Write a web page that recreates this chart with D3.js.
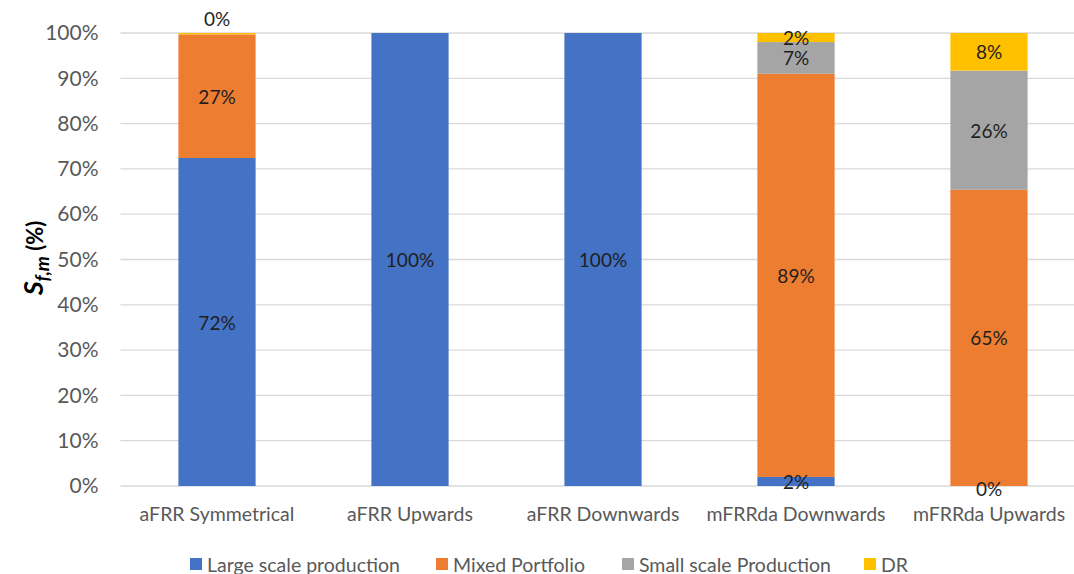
<!DOCTYPE html>
<html>
<head>
<meta charset="utf-8">
<script src="https://cdn.jsdelivr.net/npm/d3@7"></script>
<style>
  html, body { margin: 0; padding: 0; background: #fff; }
  svg { display: block; font-family: Lato, "Open Sans", sans-serif; }
</style>
</head>
<body>
<svg id="chart" width="1074" height="574"></svg>
<script>
// Product categories on the x axis
const categories = ["aFRR Symmetrical", "aFRR Upwards", "aFRR Downwards", "mFRRda Downwards", "mFRRda Upwards"];

// Share of each flexibility provider type per product (%)
const largeScale = [72.4, 100, 100, 2, 0];
const mixedPortfolio = [27.3, 0, 0, 89, 65.4];
const smallScale = [0, 0, 0, 7, 26.3];
const demandResponse = [0.3, 0, 0, 2, 8.3];

const seriesNames = ["Large scale production", "Mixed Portfolio", "Small scale Production", "DR"];
const seriesColors = ["#4472C4", "#ED7D31", "#A5A5A5", "#FFC000"];
const yTicks = [0, 10, 20, 30, 40, 50, 60, 70, 80, 90, 100];

const seriesValues = [largeScale, mixedPortfolio, smallScale, demandResponse];

const svg = d3.select("#chart");
const plot = { left: 120.5, right: 1085.5, top: 33, bottom: 486 };

const x = d3.scaleBand().domain(categories).range([plot.left, plot.right])
  .paddingInner(0.6).paddingOuter(0.3);
const y = d3.scaleLinear().domain([0, 100]).range([plot.bottom, plot.top]);

// Horizontal gridlines
svg.append("g").selectAll("line").data(yTicks).join("line")
  .attr("x1", plot.left).attr("x2", 1074)
  .attr("y1", d => y(d)).attr("y2", d => y(d))
  .attr("stroke", "#D9D9D9").attr("stroke-width", 1.3);

// Y axis tick labels
const yAxis = svg.append("g").attr("transform", `translate(${plot.left - 22},0)`)
  .call(d3.axisLeft(y).tickValues(yTicks).tickFormat(d => d + "%").tickSize(0).tickPadding(0));
yAxis.select(".domain").remove();
yAxis.selectAll("text").attr("font-family", "Lato, sans-serif").attr("font-size", 21)
  .attr("fill", "#595959");

// Stacked data
const rows = categories.map((c, i) => {
  const r = { category: c };
  seriesNames.forEach((s, k) => r[s] = seriesValues[k][i]);
  return r;
});
const stacked = d3.stack().keys(seriesNames)(rows);

const layers = svg.append("g").selectAll("g").data(stacked).join("g")
  .attr("fill", (d, i) => seriesColors[i]);
layers.selectAll("rect").data(d => d).join("rect")
  .attr("x", d => x(d.data.category))
  .attr("width", x.bandwidth())
  .attr("y", d => y(d[1]))
  .attr("height", d => y(d[0]) - y(d[1]));

// Data labels: segments that round to a visible share are centred;
// a sliver on top of a full bar gets its label lifted above the bar,
// and an empty base under a mixed bar is labelled on the baseline.
const labels = [];
stacked.forEach((layer, k) => {
  layer.forEach(d => {
    const v = d[1] - d[0];
    const cx = x(d.data.category) + x.bandwidth() / 2;
    let cy = null;
    if (Math.round(v) > 0) cy = y((d[0] + d[1]) / 2);
    else if (v > 0) cy = y(d[1]) - 15;
    else if (k === 0 && d.data[seriesNames[1]] > 0 && d.data[seriesNames[2]] > 0) cy = y(0) + 2;
    if (cy !== null) labels.push({ cx, cy, text: Math.round(v) + "%" });
  });
});
svg.append("g").selectAll("text").data(labels).join("text")
  .attr("x", d => d.cx).attr("y", d => d.cy)
  .attr("text-anchor", "middle").attr("dominant-baseline", "central")
  .attr("font-size", 19).attr("fill", "#1f1f1f")
  .text(d => d.text);

// Category labels
svg.append("g").selectAll("text").data(categories).join("text")
  .attr("x", d => x(d) + x.bandwidth() / 2).attr("y", 513)
  .attr("text-anchor", "middle").attr("dominant-baseline", "central")
  .attr("font-size", 19.5).attr("fill", "#595959")
  .text(d => d);

// Y axis title: S_{f,m} (%)
const title = svg.append("text")
  .attr("transform", "translate(43,258) rotate(-90)")
  .attr("text-anchor", "middle")
  .attr("font-family", "Lato, sans-serif")
  .attr("font-weight", "bold").attr("fill", "#000");
title.append("tspan").attr("font-style", "italic").attr("font-size", 27).text("S");
title.append("tspan").attr("font-style", "italic").attr("font-size", 19).attr("dy", 6).text("f,m");
title.append("tspan").attr("font-size", 22).attr("dy", -6).text(" (%)");

// Legend
const legendX = [190, 436, 622, 864];
const legend = svg.append("g").selectAll("g").data(seriesNames).join("g")
  .attr("transform", (d, i) => `translate(${legendX[i]},564)`);
legend.append("rect").attr("x", 0).attr("y", -6).attr("width", 12).attr("height", 12)
  .attr("fill", (d, i) => seriesColors[i]);
legend.append("text").attr("x", 17).attr("y", 0).attr("dominant-baseline", "central")
  .attr("font-size", 19.5).attr("fill", "#595959").text(d => d);
</script>
</body>
</html>
